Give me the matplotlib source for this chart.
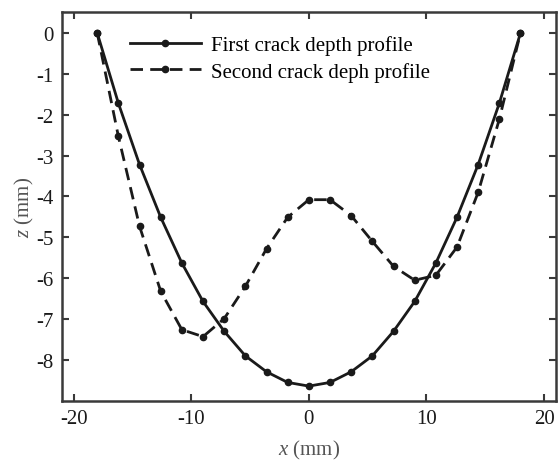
import numpy as np
import matplotlib.pyplot as plt

plt.rcParams["font.family"] = ["Liberation Serif", "DejaVu Serif"]
plt.rcParams["mathtext.fontset"] = "custom"
plt.rcParams["mathtext.it"] = "Liberation Serif:italic"
plt.rcParams["mathtext.rm"] = "Liberation Serif"
plt.rcParams["axes.unicode_minus"] = False

# точки профілю (мм)
x_pts = [-18, -16.2, -14.4, -12.6, -10.8, -9, -7.2, -5.4, -3.6, -1.8, 0,
         1.8, 3.6, 5.4, 7.2, 9, 10.8, 12.6, 14.4, 16.2, 18]
z_first = [0, -1.72, -3.22, -4.51, -5.63, -6.57, -7.30, -7.90, -8.29, -8.55, -8.64,
           -8.55, -8.29, -7.90, -7.30, -6.57, -5.63, -4.51, -3.22, -1.72, 0]
z_second = [0, -2.53, -4.73, -6.32, -7.26, -7.43, -6.99, -6.20, -5.28, -4.51, -4.08,
            -4.08, -4.47, -5.10, -5.71, -6.05, -5.93, -5.24, -3.90, -2.11, 0]

ink = "#1a1a1a"
frame = "#3a3a3a"

fig = plt.figure(figsize=(5.58, 4.64), dpi=100)
ax = fig.add_axes([0.111, 0.134, 0.885, 0.837])

ax.plot(x_pts, z_first, "-", color=ink, lw=2.0, marker="o", ms=4.5,
        label="First crack depth profile")
ax.plot(x_pts, z_second, "--", color=ink, lw=2.0, marker="o", ms=4.5,
        dashes=(4.5, 2.6), label="Second crack deph profile")

ax.set_xlim(-21, 21)
ax.set_ylim(-9, 0.5)
ax.set_xticks([-20, -10, 0, 10, 20])
ax.set_yticks(np.arange(-8, 1, 1))

ax.tick_params(direction="in", top=True, right=True, length=5, width=1.5,
               color=frame, labelsize=15, labelcolor=ink, pad=6)
for s in ax.spines.values():
    s.set_linewidth(1.8)
    s.set_color(frame)

ax.set_xlabel("$x$ (mm)", fontsize=15, color="#555555", labelpad=7)
ax.set_ylabel("$z$ (mm)", fontsize=15, color="#555555", labelpad=0)

ax.legend(loc="upper left", bbox_to_anchor=(0.108, 0.978), frameon=False,
          fontsize=15, handlelength=3.4, numpoints=1, handletextpad=0.5,
          labelspacing=0.3, borderaxespad=0.3)

plt.savefig("out.png", dpi=100)
